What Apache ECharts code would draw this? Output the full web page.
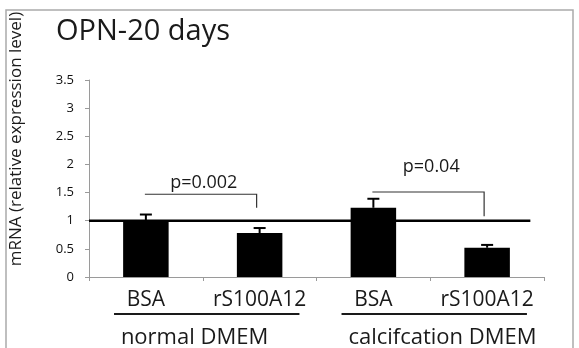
<!DOCTYPE html>
<html><head><meta charset="utf-8">
<script src="https://cdn.jsdelivr.net/npm/echarts@6/dist/echarts.min.js"></script>
<style>html,body{margin:0;padding:0;background:#fff}#c{width:579px;height:348px}</style>
</head><body><div id="c"></div>
<script>
const categories = ['BSA', 'rS100A12', 'BSA', 'rS100A12'];
const values = [1.0, 0.78, 1.23, 0.52];
const errors = [0.11, 0.09, 0.16, 0.05];
const yTicks = ['0', '0.5', '1', '1.5', '2', '2.5', '3', '3.5'];
const referenceValue = 1;
const groups = ['normal DMEM', 'calcifcation DMEM'];
const groupMembers = [[0, 1], [2, 3]];
const pLabels = ['p=0.002', 'p=0.04'];
const bracketPairs = [[0, 1], [2, 3]];
const bracketTop = [1.47, 1.51];
const bracketDrop = [1.23, 1.08];
const pLabelY = [1.67, 1.95];
const yTitle = 'mRNA (relative expression level)';

const FONT = '"Open Sans", sans-serif';
const chart = echarts.init(document.getElementById('c'));

chart.setOption({
  animation: false,
  backgroundColor: '#fff',
  title: {
    text: 'OPN-20 days', left: 51, top: 12,
    textStyle: {fontFamily: FONT, fontSize: 29, fontWeight: 'normal', color: '#1a1a1a'}
  },
  graphic: [{
    type: 'rect', shape: {x: 6, y: 10, width: 567, height: 360},
    style: {fill: 'none', stroke: '#aaaaaa', lineWidth: 1.5}, silent: true, z: -1
  }, {
    type: 'text', x: 16, y: 139, rotation: Math.PI / 2,
    style: {text: yTitle, font: '17px ' + FONT, fill: '#1a1a1a', align: 'center', verticalAlign: 'middle'}
  }],
  grid: {left: 89, right: 35, top: 80, bottom: 71},
  xAxis: {
    type: 'category', data: categories,
    axisLine: {lineStyle: {color: '#9a9a9a', width: 1}},
    axisTick: {show: true, alignWithLabel: false, length: 4, lineStyle: {color: '#9a9a9a'}},
    axisLabel: {interval: 0, fontFamily: FONT, fontSize: 21, color: '#1a1a1a', margin: 13}
  },
  yAxis: {
    type: 'value', min: 0, max: 3.5, interval: 0.5,
    axisLine: {show: true, lineStyle: {color: '#9a9a9a', width: 1}},
    axisTick: {show: true, length: 4, lineStyle: {color: '#9a9a9a'}},
    splitLine: {show: false},
    axisLabel: {fontFamily: FONT, fontSize: 13, color: '#111', margin: 15,
      formatter: (v) => yTicks[Math.round(v / 0.5)]}
  },
  series: [
    {
      type: 'bar', data: values, barWidth: '40%',
      itemStyle: {color: '#000'}, z: 2
    },
    {
      type: 'custom', z: 3,
      data: values.map((v, i) => [i, v, errors[i]]),
      renderItem: (params, api) => {
        const i = api.value(0);
        const top = api.coord([i, api.value(1)]);
        const hi = api.coord([i, api.value(1) + api.value(2)]);
        const hw = 6;
        return {type: 'group', children: [
          {type: 'line', shape: {x1: top[0], y1: top[1], x2: hi[0], y2: hi[1]}, style: {stroke: '#000', lineWidth: 2}},
          {type: 'line', shape: {x1: hi[0] - hw, y1: hi[1], x2: hi[0] + hw, y2: hi[1]}, style: {stroke: '#000', lineWidth: 2}}
        ]};
      }
    },
    {
      type: 'custom', z: 4,
      data: [[referenceValue]],
      renderItem: (params, api) => {
        const cs = params.coordSys;
        const p = api.coord([0, api.value(0)]);
        return {type: 'line', shape: {x1: cs.x, y1: p[1], x2: cs.x + cs.width * 0.97, y2: p[1]},
          style: {stroke: '#000', lineWidth: 2.5}};
      }
    },
    {
      type: 'custom', z: 5,
      data: bracketPairs.map((p, k) => [p[0], p[1], bracketTop[k], bracketDrop[k], pLabelY[k], k]),
      renderItem: (params, api) => {
        const a = api.value(0), b = api.value(1);
        const k = api.value(5);
        const l = api.coord([a, api.value(2)]);
        const r = api.coord([b, api.value(2)]);
        const d = api.coord([b, api.value(3)]);
        const t = api.coord([a, api.value(4)]);
        const x1 = l[0] - 1, x2 = r[0] - 3;
        const mid = (l[0] + r[0]) / 2;
        return {type: 'group', children: [
          {type: 'polyline', shape: {points: [[x1, l[1]], [x2, l[1]], [x2, d[1]]]},
            style: {stroke: '#333', lineWidth: 1.2, fill: 'none'}},
          {type: 'text', x: mid + 1, y: t[1],
            style: {text: pLabels[k], font: '18px ' + FONT, fill: '#1a1a1a', align: 'center', verticalAlign: 'middle'}}
        ]};
      }
    },
    {
      type: 'custom', z: 5, clip: false,
      data: groupMembers.map((g, k) => [g[0], g[1], k]),
      renderItem: (params, api) => {
        const a = api.value(0), b = api.value(1), k = api.value(2);
        const bw = api.size([1, 0])[0];
        const pa = api.coord([a, 0]);
        const pb = api.coord([b, 0]);
        const y = pa[1] + 37;
        return {type: 'group', children: [
          {type: 'line', shape: {x1: pa[0] - bw * 0.28, y1: y, x2: pb[0] + bw * 0.35, y2: y},
            style: {stroke: '#1a1a1a', lineWidth: 2}},
          {type: 'text', x: pa[0] - 25, y: y + 24,
            style: {text: groups[k], font: '22px ' + FONT, fill: '#1a1a1a', align: 'left', verticalAlign: 'middle'}}
        ]};
      }
    }
  ]
});
</script></body></html>
